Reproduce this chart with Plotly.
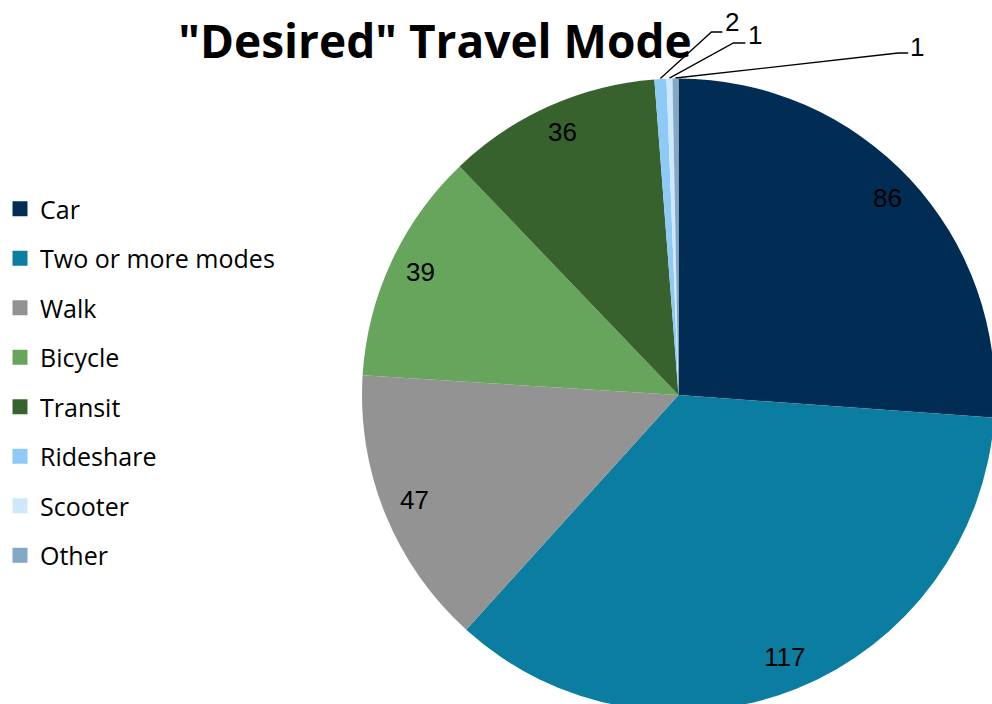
import math
import plotly.graph_objects as go

# Survey results: preferred ("desired") travel mode
modes = ["Car", "Two or more modes", "Walk", "Bicycle", "Transit",
         "Rideshare", "Scooter", "Other"]
counts = [86, 117, 47, 39, 36, 2, 1, 1]
colors = ["#012D55", "#0A7DA0", "#939393", "#66A55B", "#37622E",
          "#8DCBF6", "#CFE7FA", "#83A7C4"]

# Slices too thin for an inside label get a callout instead
small = {"Rideshare", "Scooter", "Other"}

# Page / plot geometry (pixels)
W, H = 995, 712
L, T = 361, 78
SIZE = 634  # square plot area holding the pie


def px_to_paper(px, py):
    return (px - L) / SIZE, (H - py) / SIZE


fig = go.Figure()

fig.add_trace(go.Pie(
    labels=modes,
    values=counts,
    sort=False,
    direction="clockwise",
    rotation=0,
    marker=dict(colors=colors, line=dict(width=0)),
    textinfo="none",
    hoverinfo="label+value",
    showlegend=False,
    domain=dict(x=[0, 1], y=[0, 1]),
))

# Legend entries (one group each so the spacing can be opened up)
for i, (m, c) in enumerate(zip(modes, colors)):
    fig.add_trace(go.Scatter(
        x=[None], y=[None], mode="markers", name=m,
        legendgroup=f"g{i}",
        marker=dict(symbol="square", size=15, color=c),
        hoverinfo="skip",
    ))

# Slice angles (clockwise from 12 o'clock)
total = sum(counts)
mid_angles = []
acc = 0
for v in counts:
    mid_angles.append(math.radians((acc + v / 2) / total * 360))
    acc += v

annotations = []
label_font = dict(family="Arial, Liberation Sans", size=26, color="#000000")

# Value labels near the outer edge of the larger slices
LABEL_R = 0.9
for m, v, a in zip(modes, counts, mid_angles):
    if m in small:
        continue
    annotations.append(dict(
        x=0.5 + 0.5 * LABEL_R * math.sin(a),
        y=0.5 + 0.5 * LABEL_R * math.cos(a),
        xref="paper", yref="paper", text=str(v), showarrow=False,
        font=label_font, xanchor="center", yanchor="middle", yshift=3,
    ))

# Callouts for the thin slices: elbow, line end and text centre (pixels)
callouts = {
    "Rideshare": ((711, 32), (722, 32), (732, 22)),
    "Scooter": ((733, 43), (745, 43), (755, 35)),
    "Other": ((898, 53), (908, 53), (917, 47)),
}
shapes = []
for m, v, a in zip(modes, counts, mid_angles):
    if m not in small:
        continue
    elbow, end, txt = callouts[m]
    x0, y0 = 0.5 + 0.5 * math.sin(a), 0.5 + 0.5 * math.cos(a)
    x1, y1 = px_to_paper(*elbow)
    x2, y2 = px_to_paper(*end)
    shapes.append(dict(
        type="path", xref="paper", yref="paper",
        path=f"M {x0} {y0} L {x1} {y1} L {x2} {y2}",
        line=dict(color="#000000", width=1.3),
    ))
    tx, ty = px_to_paper(*txt)
    annotations.append(dict(
        x=tx, y=ty, xref="paper", yref="paper", text=str(v),
        showarrow=False, font=label_font,
        xanchor="center", yanchor="middle",
    ))

lx, ly = px_to_paper(-1, 186)
fig.update_layout(
    width=W, height=H,
    margin=dict(l=L, r=W - L - SIZE, t=T, b=H - T - SIZE),
    paper_bgcolor="#FFFFFF",
    plot_bgcolor="#FFFFFF",
    title=dict(
        text='<b>"Desired" Travel Mode</b>',
        font=dict(family="Open Sans", size=46, color="#000000"),
        x=435 / W, xref="container", xanchor="center",
        y=1 - 42 / H, yref="container", yanchor="middle",
    ),
    legend=dict(
        x=lx, y=ly, xanchor="left", yanchor="top",
        font=dict(family="Open Sans", size=25, color="#000000"),
        tracegroupgap=14,
        bgcolor="rgba(0,0,0,0)",
    ),
    xaxis=dict(visible=False),
    yaxis=dict(visible=False),
    annotations=annotations,
    shapes=shapes,
)

fig.write_html(
    "out.html",
    post_script="document.documentElement.style.overflow='hidden';"
                "document.body.style.overflow='hidden';"
                "document.body.style.margin='0';",
)
